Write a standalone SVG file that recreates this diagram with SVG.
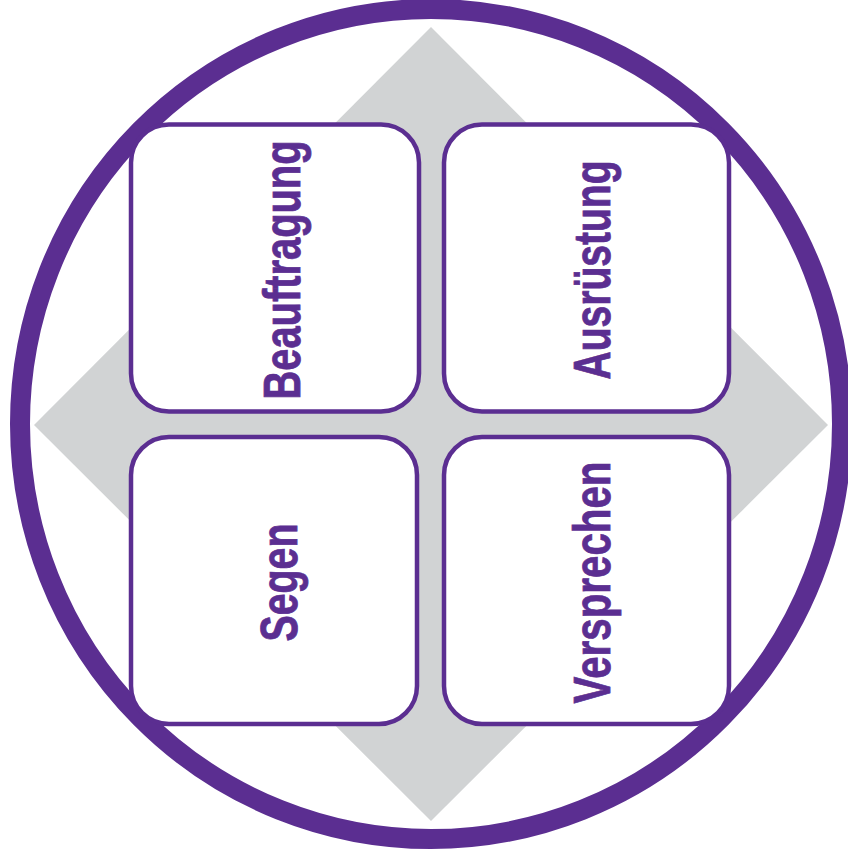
<svg xmlns="http://www.w3.org/2000/svg" width="848" height="858" viewBox="0 0 848 858">
  <style>
    .box { fill: #ffffff; stroke: #5B2E91; stroke-width: 4.5; }
    .lbl { font-family: "Liberation Sans", Arial, sans-serif; font-weight: bold; font-size: 52px; fill: #5B2E91; text-anchor: middle; stroke: #5B2E91; stroke-width: 0.8; }
  </style>
  <rect width="848" height="858" fill="#ffffff"/>
  <g id="background">
    <polygon points="431,27 828,425 431,821 34,425" fill="#D1D3D4"/>
    <ellipse cx="431" cy="424" rx="411" ry="415" fill="none" stroke="#5B2E91" stroke-width="20"/>
  </g>
  <g id="connectors"></g>
  <g id="node-beauftragung">
    <rect class="box" x="131" y="124.5" width="288" height="287" rx="38" ry="38"/>
    <text class="lbl" transform="translate(300,270) rotate(-90)" textLength="259" lengthAdjust="spacingAndGlyphs">Beauftragung</text>
  </g>
  <g id="node-ausruestung">
    <rect class="box" x="444" y="124.5" width="285" height="287" rx="38" ry="38"/>
    <text class="lbl" transform="translate(610,270) rotate(-90)" textLength="219" lengthAdjust="spacingAndGlyphs">Ausrüstung</text>
  </g>
  <g id="node-segen">
    <rect class="box" x="131" y="437" width="286" height="287" rx="38" ry="38"/>
    <text class="lbl" transform="translate(297,582.5) rotate(-90)" textLength="118" lengthAdjust="spacingAndGlyphs">Segen</text>
  </g>
  <g id="node-versprechen">
    <rect class="box" x="444" y="437" width="285" height="287" rx="38" ry="38"/>
    <text class="lbl" transform="translate(610,582.5) rotate(-90)" textLength="242" lengthAdjust="spacingAndGlyphs">Versprechen</text>
  </g>
</svg>
